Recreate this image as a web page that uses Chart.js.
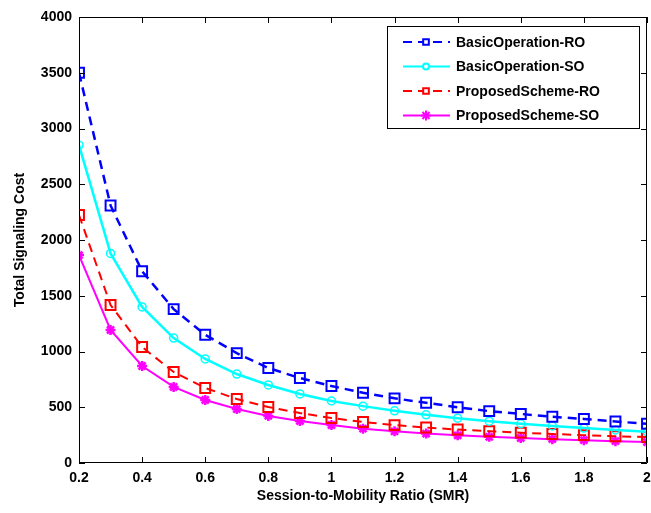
<!DOCTYPE html>
<html>
<head>
<meta charset="utf-8">
<script src="https://cdn.jsdelivr.net/npm/chart.js@4.4.0/dist/chart.umd.min.js"></script>
<style>
  html, body { margin: 0; padding: 0; background: #fff; }
  #wrap { width: 651px; height: 513px; }
</style>
</head>
<body>
<div id="wrap"><canvas id="lineChart" width="651" height="513"></canvas></div>
<script>
var smr = [0.2, 0.3, 0.4, 0.5, 0.6, 0.7, 0.8, 0.9, 1.0, 1.1, 1.2, 1.3, 1.4, 1.5, 1.6, 1.7, 1.8, 1.9, 2.0];

var basicRO = [3500, 2310, 1720, 1380, 1150, 985, 852, 762, 690, 630, 580, 540, 500, 465, 440, 415, 395, 372, 352];
var basicSO = [2850, 1880, 1400, 1120, 933, 798, 700, 619, 556, 510, 468, 432, 402, 375, 352, 332, 313, 296, 281];
var proposedRO = [2224, 1417, 1040, 816, 673, 574, 502, 448, 404, 368, 340, 318, 300, 285, 272, 260, 250, 240, 232];
var proposedSO = [1865, 1193, 870, 682, 565, 484, 422, 377, 341, 308, 284, 264, 248, 235, 224, 214, 205, 196, 188];

var xTicks = [0.2, 0.4, 0.6, 0.8, 1, 1.2, 1.4, 1.6, 1.8, 2];
var yTicks = [0, 500, 1000, 1500, 2000, 2500, 3000, 3500, 4000];

var boldFont = { family: "Arial, 'Liberation Sans', sans-serif", size: 14, weight: "bold" };

function pts(ys) {
  return smr.map((x, i) => ({ x: x, y: ys[i] }));
}

// MATLAB style box, inward ticks and a legend inside the plot
var matlabBox = {
  id: "matlabBox",
  afterDatasetsDraw(chart) {
    var ctx = chart.ctx;
    var a = chart.chartArea;
    var xs = chart.scales.x;
    var ys = chart.scales.y;
    ctx.save();
    ctx.strokeStyle = "#000";
    ctx.lineWidth = 1;
    ctx.beginPath();
    ctx.rect(a.left + 0.5, a.top + 0.5, a.right - a.left - 1, a.bottom - a.top - 1);
    xTicks.forEach((v) => {
      var px = Math.round(xs.getPixelForValue(v)) + 0.5;
      ctx.moveTo(px, a.bottom); ctx.lineTo(px, a.bottom - 6);
      ctx.moveTo(px, a.top); ctx.lineTo(px, a.top + 6);
    });
    yTicks.forEach((v) => {
      var py = Math.round(ys.getPixelForValue(v)) + 0.5;
      ctx.moveTo(a.left, py); ctx.lineTo(a.left + 6, py);
      ctx.moveTo(a.right, py); ctx.lineTo(a.right - 6, py);
    });
    ctx.stroke();

    // legend
    var lx = 387, ly = 26, lw = 252, lh = 102;
    ctx.fillStyle = "#fff";
    ctx.fillRect(lx, ly, lw, lh);
    ctx.strokeRect(lx + 0.5, ly + 0.5, lw, lh);
    ctx.font = "bold 14px Arial, 'Liberation Sans', sans-serif";
    ctx.textBaseline = "middle";
    chart.data.datasets.forEach((ds, i) => {
      var y = ly + 16 + i * 24.5;
      ctx.strokeStyle = ds.borderColor;
      ctx.lineWidth = 2;
      ctx.setLineDash(ds.borderDash || []);
      ctx.beginPath();
      ctx.moveTo(403, y); ctx.lineTo(450, y);
      ctx.stroke();
      ctx.setLineDash([]);
      ctx.fillStyle = ds.pointStyle === "star" ? ds.borderColor : "#fff";
      Chart.helpers.drawPoint(ctx, {
        pointStyle: ds.pointStyle,
        radius: ds.pointStyle === "rect" ? 4 : (ds.pointStyle === "star" ? 5 : 3),
        borderWidth: 2
      }, 426, y);
      ctx.fillStyle = "#000";
      ctx.fillText(ds.label, 456, y + 1);
    });
    ctx.restore();
  }
};

var ctx = document.getElementById("lineChart").getContext("2d");
var lineChart = new Chart(ctx, {
  type: "line",
  data: {
    datasets: [
      {
        label: "BasicOperation-RO",
        data: pts(basicRO),
        borderColor: "#0000ff",
        backgroundColor: "rgba(0,0,0,0)",
        borderWidth: 2.5,
        borderDash: [9, 6],
        pointStyle: "rect",
        pointRadius: 7,
        pointBorderWidth: 2,
      },
      {
        label: "BasicOperation-SO",
        data: pts(basicSO),
        borderColor: "#00ffff",
        backgroundColor: "rgba(0,0,0,0)",
        borderWidth: 2.5,
        pointStyle: "circle",
        pointRadius: 4,
        pointBorderWidth: 1.5,
      },
      {
        label: "ProposedScheme-RO",
        data: pts(proposedRO),
        borderColor: "#ff0000",
        backgroundColor: "rgba(0,0,0,0)",
        borderWidth: 2,
        borderDash: [9, 6],
        pointStyle: "rect",
        pointRadius: 7,
        pointBorderWidth: 2,
      },
      {
        label: "ProposedScheme-SO",
        data: pts(proposedSO),
        borderColor: "#ff00ff",
        backgroundColor: "#ff00ff",
        borderWidth: 2,
        pointStyle: "star",
        pointRadius: 5,
        pointBorderWidth: 2.5,
      },
    ],
  },
  options: {
    responsive: false,
    animation: false,
    layout: { autoPadding: false, padding: { top: 17, right: 4, left: 0, bottom: 0 } },
    plugins: {
      legend: { display: false },
      tooltip: { enabled: false },
    },
    scales: {
      x: {
        type: "linear",
        min: 0.2,
        max: 2,
        afterBuildTicks: (s) => { s.ticks = xTicks.map((v) => ({ value: v })); },
        afterFit: (s) => { s.height = 50; s.paddingLeft = 0; s.paddingRight = 0; },
        grid: { drawOnChartArea: false, drawTicks: false, tickLength: 0 },
        border: { display: false },
        ticks: {
          color: "#000",
          font: boldFont,
          padding: 7,
          maxRotation: 0,
          autoSkip: false,
          callback: (v) => String(Math.round(v * 10) / 10),
        },
        title: {
          display: true,
          text: "Session-to-Mobility Ratio (SMR)",
          color: "#000",
          font: boldFont,
          padding: { top: 0, bottom: 8 },
        },
      },
      y: {
        min: 0,
        max: 4000,
        afterBuildTicks: (s) => { s.ticks = yTicks.map((v) => ({ value: v })); },
        afterFit: (s) => { s.width = 79; s.paddingTop = 0; s.paddingBottom = 0; },
        grid: { drawOnChartArea: false, drawTicks: false, tickLength: 0 },
        border: { display: false },
        ticks: {
          color: "#000",
          font: boldFont,
          padding: 7,
          autoSkip: false,
          callback: (v) => String(v),
        },
        title: {
          display: true,
          text: "Total Signaling Cost",
          color: "#000",
          font: boldFont,
          padding: { top: 12, bottom: 0 },
        },
      },
    },
  },
  plugins: [matlabBox],
});
</script>
</body>
</html>
